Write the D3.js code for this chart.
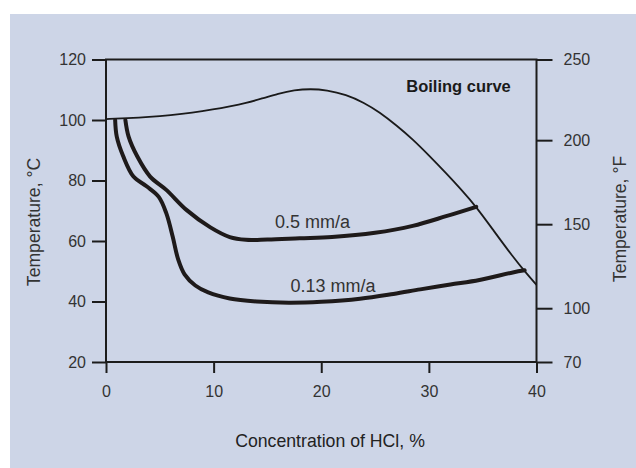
<!DOCTYPE html>
<html>
<head>
<meta charset="utf-8">
<script src="https://cdn.jsdelivr.net/npm/d3@7"></script>
<style>
  html, body { margin: 0; padding: 0; background: #ffffff; }
  svg { display: block; font-family: "Liberation Sans", Arial, sans-serif; }
</style>
</head>
<body>
<svg id="chart" width="636" height="468"></svg>
<script>
// ---- data ----
const concentrationTicks = [0, 10, 20, 30, 40];
const tempCTicks = [20, 40, 60, 80, 100, 120];
const tempFTicks = [70, 100, 150, 200, 250];

// [HCl concentration %, temperature °C]
const boilingCurve = [
  [0, 100.3], [2, 100.6], [4, 101], [6, 101.6], [8, 102.4], [10, 103.5],
  [11.5, 104.5], [13, 105.6], [14.5, 107.1], [16, 108.7], [17.5, 109.9],
  [19, 110.3], [20.5, 109.9], [22.3, 108.4], [24, 105.7], [25.4, 102.6],
  [27, 98.2], [28.5, 93.6], [30, 88.3], [31.6, 82.4], [33, 77], [34.4, 71.3],
  [36, 63.5], [37.8, 54.8], [38.9, 50], [40, 45.5]
];
const rate05 = [
  [1.8, 100], [2.1, 94.5], [2.9, 88], [4.1, 81.3], [5.6, 76.9], [7.5, 70.2],
  [9.7, 64.5], [11.5, 61.3], [13, 60.4], [15, 60.5], [18, 60.9], [21, 61.3],
  [25, 62.7], [28.5, 65], [31.6, 68.2], [34.4, 71.3]
];
const rate013 = [
  [0.85, 100], [1.0, 94.5], [1.6, 88], [2.55, 81.3], [3.8, 78], [4.9, 74.6],
  [5.6, 69.2], [6.2, 61.4], [6.7, 54], [7.3, 49], [8.3, 45.3], [9.5, 43],
  [11.5, 41], [14, 40], [17, 39.6], [20, 39.9], [23.6, 40.9], [26.7, 42.5],
  [29.2, 44], [32, 45.6], [34.7, 47.1], [37.8, 49.6], [38.9, 50.3]
];
const curveLabels = ["0.5 mm/a", "0.13 mm/a", "Boiling curve"];
const labelConc = [15.7, 17.15, 27.9];
const labelTemp = [64.4, 43.2, 109.3];

// ---- drawing ----
const svg = d3.select("#chart");
svg.append("rect").attr("x", 10).attr("y", 14).attr("width", 626).attr("height", 454)
  .attr("fill", "#cdd5e7");

const x = d3.scaleLinear().domain([0, 40]).range([106, 536.5]);
const y = d3.scaleLinear().domain([20, 120]).range([362, 59.5]);
// °F axis: inner ticks follow the °C conversion, end ticks sit on the frame
const fToC = f => (f - 32) * 5 / 9;
const yF = d3.scaleLinear()
  .domain(tempFTicks)
  .range(tempFTicks.map((f, i) => i === 0 ? y(20) : i === tempFTicks.length - 1 ? y(120) : y(fToC(f))));

const axisColor = "#1c1c1c";
const textColor = "#333333";

// frame
svg.append("rect")
  .attr("x", x(0)).attr("y", y(120))
  .attr("width", x(40) - x(0)).attr("height", y(20) - y(120))
  .attr("fill", "none").attr("stroke", axisColor).attr("stroke-width", 2);

function styleAxis(g) {
  g.select(".domain").remove();
  g.selectAll(".tick line").attr("stroke", axisColor).attr("stroke-width", 2);
  g.selectAll(".tick text").attr("fill", textColor).attr("font-size", 16)
    .attr("font-family", "'Liberation Sans', Arial, sans-serif");
}

svg.append("g").attr("transform", `translate(${x(0)},0)`)
  .call(d3.axisLeft(y).tickValues(tempCTicks).tickSize(14).tickPadding(6).tickFormat(d3.format("d")))
  .call(styleAxis);

svg.append("g").attr("transform", `translate(${x(40)},0)`)
  .call(d3.axisRight(yF).tickValues(tempFTicks).tickSize(16).tickPadding(11).tickFormat(d3.format("d")))
  .call(styleAxis);

svg.append("g").attr("transform", `translate(0,${y(20)})`)
  .call(d3.axisBottom(x).tickValues(concentrationTicks).tickSize(11).tickPadding(13).tickFormat(d3.format("d")))
  .call(styleAxis);

// curves
const line = d3.line().x(d => x(d[0])).y(d => y(d[1])).curve(d3.curveCatmullRom.alpha(0.5));
const smoothLine = d3.line().x(d => x(d[0])).y(d => y(d[1])).curve(d3.curveBasis);

svg.append("path").datum(boilingCurve).attr("d", smoothLine)
  .attr("fill", "none").attr("stroke", "#1a1a1a").attr("stroke-width", 1.8);
svg.append("path").datum(rate05).attr("d", line)
  .attr("fill", "none").attr("stroke", "#1e1a1a").attr("stroke-width", 4).attr("stroke-linecap", "round");
svg.append("path").datum(rate013).attr("d", line)
  .attr("fill", "none").attr("stroke", "#1e1a1a").attr("stroke-width", 4).attr("stroke-linecap", "round");

// curve labels
curveLabels.forEach((t, i) => {
  svg.append("text")
    .attr("x", x(labelConc[i])).attr("y", y(labelTemp[i]))
    .attr("font-size", i === 2 ? 16.5 : 18)
    .attr("font-weight", i === 2 ? "bold" : "normal")
    .attr("fill", i === 2 ? "#1a1a1a" : textColor)
    .text(t);
});

// axis titles
svg.append("text")
  .attr("transform", `translate(40,222) rotate(-90)`)
  .attr("text-anchor", "middle").attr("font-size", 17.6).attr("fill", textColor)
  .text("Temperature, °C");
svg.append("text")
  .attr("transform", `translate(626,219) rotate(-90)`)
  .attr("text-anchor", "middle").attr("font-size", 17.6).attr("fill", textColor)
  .text("Temperature, °F");
svg.append("text")
  .attr("x", 330).attr("y", 447)
  .attr("text-anchor", "middle").attr("font-size", 17.7).attr("fill", "#222222")
  .text("Concentration of HCl, %");
</script>
</body>
</html>
